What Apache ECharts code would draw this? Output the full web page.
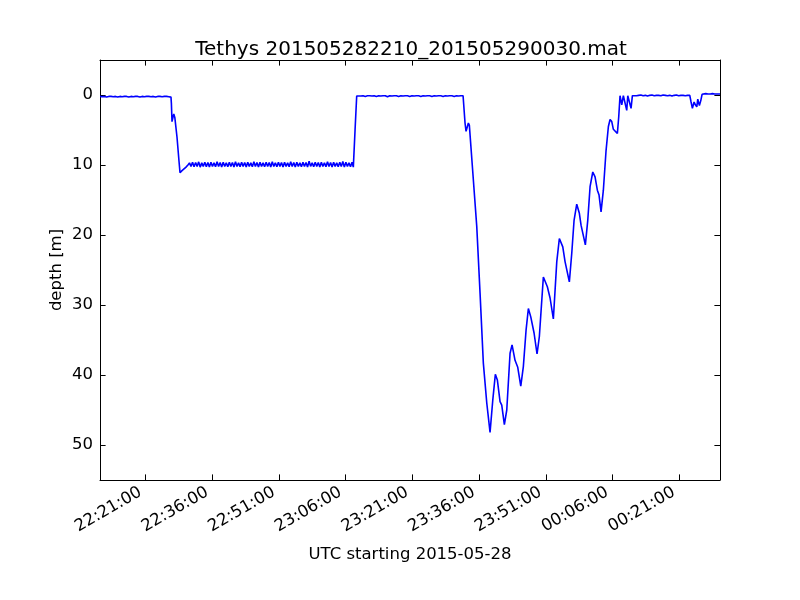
<!DOCTYPE html>
<html>
<head>
<meta charset="utf-8">
<script src="https://cdn.jsdelivr.net/npm/echarts@6/dist/echarts.min.js"></script>
<style>html,body{margin:0;padding:0;background:#fff}#c{width:800px;height:600px}</style>
</head>
<body>
<div id="c"></div>
<script>
// time in minutes after 22:00:00 UTC (2015-05-28), depth in metres
const surface1Time = [10.72,11.2,11.7,12.2,12.7,13.2,13.7,14.2,14.7,15.2,15.7,16.2,16.7,17.2,17.7,18.2,18.7,19.2,19.7,20.2,20.7,21.2,21.7,22.2,22.7,23.2,23.7,24.2,24.7,25.2,25.7,26.2,26.69];
const surface1Depth = [0.2,0.25,0.2,0.3,0.2,0.2,0.25,0.2,0.3,0.2,0.25,0.2,0.2,0.3,0.2,0.25,0.2,0.2,0.3,0.2,0.25,0.2,0.2,0.25,0.2,0.3,0.2,0.2,0.25,0.2,0.2,0.25,0.3];

const descent1Time = [26.78,26.92,27.1,27.32,27.55,28.04,28.5,28.72,29.17,29.6,30.07,30.5];
const descent1Depth = [1.2,3.8,3.3,2.7,3.2,6.0,9.5,11.1,10.8,10.6,10.3,10.0];

const hoverTime = [30.85,31.19,31.54,31.88,32.23,32.57,32.92,33.26,33.61,33.95,34.30,34.64,34.99,35.33,35.68,36.02,36.37,36.71,37.06,37.40,37.75,38.09,38.44,38.78,39.13,39.47,39.82,40.16,40.51,40.85,41.20,41.54,41.89,42.23,42.58,42.92,43.27,43.61,43.96,44.30,44.65,44.99,45.34,45.68,46.03,46.37,46.72,47.06,47.41,47.75,48.10,48.44,48.79,49.13,49.48,49.82,50.17,50.51,50.86,51.20,51.55,51.89,52.24,52.58,52.93,53.27,53.62,53.96,54.31,54.65,55.00,55.34,55.69,56.03,56.38,56.72,57.07,57.41,57.76,58.10,58.45,58.79,59.14,59.48,59.83,60.17,60.52,60.86,61.21,61.55,61.90,62.24,62.59,62.93,63.28,63.62,63.97,64.31,64.66,65.00,65.35,65.69,66.04,66.38,66.73,67.07,67.42];
const hoverDepth = [9.7,10.2,9.6,10.25,9.65,10.2,9.55,10.3,9.7,10.2,9.6,10.25,9.65,10.3,9.6,10.2,9.7,10.25,9.55,10.2,9.65,10.3,9.6,10.2,9.7,10.25,9.6,10.2,9.65,10.3,9.55,10.2,9.7,10.25,9.6,10.2,9.65,10.3,9.6,10.2,9.7,10.25,9.55,10.2,9.65,10.3,9.6,10.2,9.7,10.25,9.6,10.2,9.65,10.3,9.55,10.2,9.7,10.25,9.6,10.2,9.65,10.3,9.6,10.2,9.7,10.25,9.55,10.2,9.65,10.3,9.6,10.2,9.7,10.25,9.6,10.2,9.65,10.3,9.45,10.2,9.7,10.25,9.6,10.2,9.65,10.3,9.6,10.2,9.7,10.25,9.55,10.2,9.65,10.3,9.6,10.2,9.7,10.25,9.6,10.2,9.5,10.3,9.6,10.2,9.7,10.25,9.6];

const ascent1Time = [67.71,68.1,68.47];
const ascent1Depth = [10.3,5.0,0.15];

const surface2Time = [68.9,69.4,69.9,70.4,70.9,71.4,71.9,72.4,72.9,73.4,73.9,74.4,74.9,75.4,75.9,76.4,76.9,77.4,77.9,78.4,78.9,79.4,79.9,80.4,80.9,81.4,81.9,82.4,82.9,83.4,83.9,84.4,84.9,85.4,85.9,86.4,86.9,87.4,87.9,88.4,88.9,89.4,89.9,90.4,90.9,91.4,91.9,92.4];
const surface2Depth = [0.1,0.15,0.1,0.2,0.1,0.1,0.15,0.1,0.2,0.1,0.15,0.1,0.1,0.25,0.1,0.15,0.1,0.1,0.2,0.1,0.15,0.1,0.1,0.2,0.1,0.15,0.1,0.1,0.2,0.1,0.15,0.1,0.1,0.2,0.1,0.15,0.1,0.1,0.2,0.1,0.15,0.1,0.1,0.2,0.1,0.15,0.1,0.1];

const dive2Time = [92.46,92.84,93.07,93.59,93.81,94.71,95.48,96.22,96.96,97.73,98.47,99.08,99.66,100.11,100.72,101.1,101.69,102.23,102.97,103.42,104.09,104.7,105.38,105.96,106.57,107.09,107.63,108.37,108.75,109.04,109.56,110.46,110.84,111.36,111.97,112.71,113.48,114.06,114.83,115.34,115.72,116.31,116.85,117.37,117.97,118.56,118.94,119.33,119.91,120.45,120.97,121.58,122.09,122.61,122.99,123.44,123.96,124.57,125.09,125.47,125.85,126.21,126.59,127.11,127.42,127.71,128.1,128.46,128.84,129.22,129.45,129.81,130.19,130.49];
const dive2Depth = [0.1,4.0,5.2,4.0,4.3,12.1,18.8,28.3,38.3,44.0,48.2,43.6,39.9,40.7,43.8,44.3,47.1,45.0,36.9,35.7,37.9,38.9,41.6,38.8,33.6,30.5,31.7,34.0,34.1,37.0,34.5,26.0,25.9,27.4,29.0,32.0,23.8,20.5,21.7,23.8,24.0,26.7,22.6,17.9,15.6,16.9,18.6,18.6,21.4,17.9,13.1,11.0,11.7,13.6,14.3,16.7,13.6,7.9,4.5,3.5,3.8,4.9,5.0,5.5,3.1,0.1,1.4,0.1,0.2,2.2,0.1,0.2,1.9,0.1];

const surface3Time = [130.9,131.4,131.9,132.4,132.9,133.4,133.9,134.4,134.9,135.4,135.9,136.4,136.9,137.4,137.9,138.4,138.9,139.4,139.9,140.4,140.9,141.4,141.9,142.4,142.9,143.4];
const surface3Depth = [0.05,0.1,0.05,0.0,0.1,0.05,0.15,0.05,0.0,0.1,0.05,0.05,0.1,0.0,0.05,0.1,0.05,0.15,0.05,0.0,0.1,0.05,0.05,0.1,0.05,0.05];

const spikesTime = [143.69,143.99,144.37,144.66,144.98,145.2,145.56,145.88,146.17];
const spikesDepth = [1.0,1.9,1.0,1.4,1.7,0.6,1.5,0.8,-0.1];

const surface4Time = [146.5,147.0,147.5,148.0,148.5,149.0,149.5,150.2];
const surface4Depth = [-0.15,-0.2,-0.15,-0.15,-0.2,-0.15,-0.15,-0.15];

const xTickMinutes = [21,36,51,66,81,96,111,126,141];
const yTickDepths = [0,10,20,30,40,50];
const xMin = 10.72, xMax = 150.2, yMin = -5, yMax = 55;

function zip(t, d) { return t.map((v, i) => [v, d[i]]); }
const data = [].concat(
  zip(surface1Time, surface1Depth),
  zip(descent1Time, descent1Depth),
  zip(hoverTime, hoverDepth),
  zip(ascent1Time, ascent1Depth),
  zip(surface2Time, surface2Depth),
  zip(dive2Time, dive2Depth),
  zip(surface3Time, surface3Depth),
  zip(spikesTime, spikesDepth),
  zip(surface4Time, surface4Depth)
);

function fmtTime(v) {
  const total = Math.round(v * 60) + 22 * 3600;
  const h = Math.floor(total / 3600) % 24;
  const m = Math.floor((total % 3600) / 60);
  const s = total % 60;
  const p = n => String(n).padStart(2, '0');
  return p(h) + ':' + p(m) + ':' + p(s);
}

const FONT = 'DejaVu Sans';
const axisLine = { show: true, onZero: false, lineStyle: { color: '#000', width: 1 } };
const tickStyle = { color: '#000', width: 1 };

const chart = echarts.init(document.getElementById('c'), null, { renderer: 'canvas' });
chart.setOption({
  animation: false,
  backgroundColor: '#fff',
  textStyle: { fontFamily: FONT },
  title: {
    text: 'Tethys 201505282210_201505290030.mat',
    left: 406, top: 35, textAlign: 'center',
    textStyle: { fontFamily: FONT, fontSize: 20, fontWeight: 'normal', color: '#000' }
  },
  grid: { left: 100, right: 80, top: 60, bottom: 120, containLabel: false },
  xAxis: [
    {
      type: 'value', min: xMin, max: xMax, position: 'bottom',
      axisLine: axisLine,
      splitLine: { show: false },
      axisTick: { show: true, inside: true, length: 5.6, lineStyle: tickStyle, customValues: xTickMinutes },
      axisLabel: { show: true, rotate: 30, margin: 8, padding: [0, 6, 0, 0], color: '#000', fontFamily: FONT, fontSize: 16.5,
        customValues: xTickMinutes, formatter: fmtTime },
      name: 'UTC starting 2015-05-28', nameLocation: 'middle', nameGap: 66,
      nameTextStyle: { fontFamily: FONT, fontSize: 16.5, color: '#000' }
    },
    {
      type: 'value', min: xMin, max: xMax, position: 'top',
      axisLine: axisLine,
      splitLine: { show: false },
      axisTick: { show: true, inside: true, length: 5.6, lineStyle: tickStyle, customValues: xTickMinutes },
      axisLabel: { show: false, customValues: xTickMinutes }
    }
  ],
  yAxis: [
    {
      type: 'value', min: yMin, max: yMax, inverse: true, position: 'left',
      axisLine: axisLine,
      splitLine: { show: false },
      axisTick: { show: true, inside: true, length: 5.6, lineStyle: tickStyle, customValues: yTickDepths },
      axisLabel: { show: true, margin: 7, color: '#000', fontFamily: FONT, fontSize: 16.5, customValues: yTickDepths },
      name: 'depth [m]', nameLocation: 'middle', nameGap: 35, nameRotate: 90, nameMoveOverlap: false,
      nameTextStyle: { fontFamily: FONT, fontSize: 16.5, color: '#000' }
    },
    {
      type: 'value', min: yMin, max: yMax, inverse: true, position: 'right',
      axisLine: axisLine,
      splitLine: { show: false },
      axisTick: { show: true, inside: true, length: 5.6, lineStyle: tickStyle, customValues: yTickDepths },
      axisLabel: { show: false, customValues: yTickDepths }
    }
  ],
  series: [{
    type: 'line',
    xAxisIndex: 0, yAxisIndex: 0,
    data: data,
    showSymbol: false,
    symbol: 'none',
    smooth: false,
    lineStyle: { color: '#0000ff', width: 1.6 },
    clip: true
  }]
});
</script>
</body>
</html>
